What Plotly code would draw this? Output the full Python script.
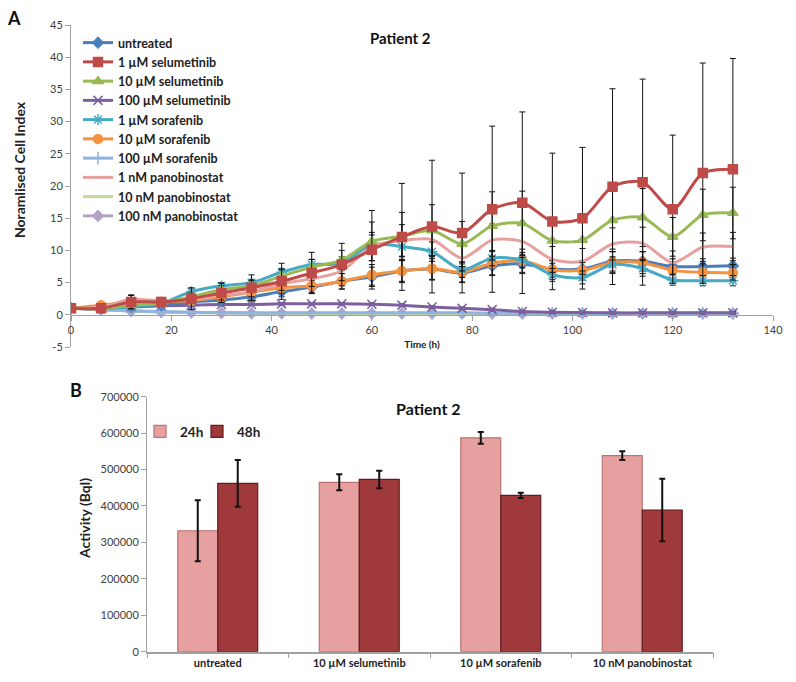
import plotly.graph_objects as go

# page body has an 8px margin, so the figure is drawn 8px in from the window edge
OFF = 8
W, H = 796 - 2 * OFF, 682 - 2 * OFF

# ---------------- Panel A data ----------------
time_h = [0, 6, 12, 18, 24, 30, 36, 42, 48, 54, 60, 66, 72, 78, 84, 90, 96, 102, 108, 114, 120, 126, 132]

series_names = ["untreated", "1 µM selumetinib", "10 µM selumetinib", "100 µM selumetinib",
                "1 µM sorafenib", "10 µM sorafenib", "100 µM sorafenib",
                "1 nM panobinostat", "10 nM panobinostat", "100 nM panobinostat"]

untreated = [1.0, 1.0, 1.2, 1.5, 2.0, 2.3, 2.8, 3.6, 4.3, 5.2, 5.9, 6.8, 7.1, 6.5, 7.6, 7.9, 7.1, 7.1, 8.3, 8.3, 7.5, 7.5, 7.6]
selu_1 = [1.0, 1.0, 2.0, 2.0, 2.5, 3.4, 4.2, 5.2, 6.5, 7.8, 10.1, 12.1, 13.7, 12.7, 16.4, 17.4, 14.5, 15.0, 19.9, 20.6, 16.4, 22.0, 22.6]
selu_10 = [1.0, 0.9, 1.5, 1.8, 2.8, 3.9, 4.5, 6.0, 7.4, 8.5, 11.4, 12.2, 13.1, 11.0, 13.8, 14.2, 11.5, 11.6, 14.7, 15.1, 12.1, 15.5, 15.8]
selu_100 = [1.0, 1.1, 1.3, 1.4, 1.5, 1.6, 1.6, 1.7, 1.7, 1.7, 1.65, 1.5, 1.2, 1.0, 0.8, 0.5, 0.4, 0.35, 0.3, 0.3, 0.3, 0.3, 0.3]
sora_1 = [1.0, 1.0, 1.3, 1.8, 3.6, 4.5, 5.0, 6.6, 7.8, 8.0, 10.9, 10.6, 9.8, 7.0, 8.8, 8.5, 6.2, 5.8, 7.8, 7.2, 5.4, 5.3, 5.3]
sora_10 = [1.0, 1.5, 2.0, 2.0, 2.2, 2.8, 3.5, 4.2, 4.5, 5.2, 6.2, 6.8, 7.2, 6.6, 8.0, 8.4, 7.0, 6.9, 8.1, 8.1, 6.9, 6.6, 6.5]
sora_100 = [1.0, 0.8, 0.6, 0.5, 0.4, 0.35, 0.3, 0.3, 0.3, 0.3, 0.3, 0.3, 0.3, 0.3, 0.25, 0.25, 0.25, 0.25, 0.25, 0.25, 0.25, 0.25, 0.25]
pano_1 = [1.0, 1.2, 2.4, 2.2, 2.4, 3.0, 3.6, 4.8, 5.6, 6.8, 10.6, 11.5, 11.7, 8.8, 11.6, 11.4, 8.6, 8.3, 11.0, 11.1, 8.1, 10.5, 10.6]
pano_10 = [1.0, 0.8, 0.6, 0.45, 0.35, 0.3, 0.25, 0.25, 0.2, 0.2, 0.2, 0.2, 0.2, 0.2, 0.2, 0.2, 0.2, 0.2, 0.2, 0.2, 0.2, 0.2, 0.2]
pano_100 = [1.0, 0.8, 0.6, 0.45, 0.35, 0.3, 0.25, 0.25, 0.2, 0.2, 0.2, 0.2, 0.2, 0.2, 0.2, 0.2, 0.2, 0.2, 0.2, 0.2, 0.2, 0.2, 0.2]

err_untreated = [0, 0.2, 0.3, 0.3, 0.4, 0.5, 0.6, 0.8, 1.0, 1.2, 1.5, 1.6, 1.6, 1.4, 1.5, 1.5, 1.3, 1.3, 1.5, 1.5, 1.2, 1.2, 1.2]
err_selu_1 = [0, 0.3, 1.1, 0.5, 1.7, 1.5, 2.0, 2.8, 3.2, 3.3, 6.1, 8.3, 10.3, 9.3, 12.9, 14.1, 10.6, 11.0, 15.2, 16.0, 11.5, 17.1, 17.2]
err_selu_10 = [0, 0.3, 0.5, 0.5, 0.6, 0.6, 0.8, 1.0, 1.2, 1.5, 3.0, 3.7, 4.0, 3.5, 5.3, 5.0, 3.5, 3.5, 4.5, 4.5, 3.0, 4.0, 4.0]
err_selu_100 = [0, 0.1, 0.2, 0.2, 0.2, 0.2, 0.2, 0.2, 0.2, 0.2, 0.2, 0.2, 0.2, 0.2, 0.2, 0.2, 0.2, 0.2, 0.2, 0.2, 0.2, 0.2, 0.2]
err_sora_1 = [0, 0.2, 0.3, 0.3, 0.4, 0.5, 0.5, 0.6, 0.8, 1.0, 1.5, 1.5, 1.5, 1.2, 1.2, 1.2, 1.0, 1.0, 1.2, 1.2, 0.8, 0.8, 0.8]
err_sora_10 = [0, 0.2, 0.3, 0.3, 0.4, 0.5, 0.6, 0.8, 1.0, 1.2, 1.6, 1.8, 1.8, 1.6, 1.8, 1.8, 1.5, 1.5, 1.7, 1.7, 1.3, 1.3, 1.3]
err_sora_100 = [0, 0.1, 0.1, 0.1, 0.1, 0.1, 0.1, 0.1, 0.1, 0.1, 0.1, 0.1, 0.1, 0.1, 0.1, 0.1, 0.1, 0.1, 0.1, 0.1, 0.1, 0.1, 0.1]
err_pano_1 = [0, 0.3, 0.6, 0.5, 0.6, 0.7, 0.8, 1.0, 1.2, 1.5, 2.2, 2.5, 2.5, 2.0, 2.5, 2.5, 2.0, 2.0, 2.5, 2.5, 1.8, 2.2, 2.2]
err_pano_10 = [0, 0.1, 0.1, 0.1, 0.1, 0.1, 0.1, 0.1, 0.1, 0.1, 0.1, 0.1, 0.1, 0.1, 0.1, 0.1, 0.1, 0.1, 0.1, 0.1, 0.1, 0.1, 0.1]
err_pano_100 = [0, 0.1, 0.1, 0.1, 0.1, 0.1, 0.1, 0.1, 0.1, 0.1, 0.1, 0.1, 0.1, 0.1, 0.1, 0.1, 0.1, 0.1, 0.1, 0.1, 0.1, 0.1, 0.1]

y_ticks_a = [-5, 0, 5, 10, 15, 20, 25, 30, 35, 40, 45]
y_ticklabels_a = ["-5", "0", "5", "10", "15", "20", "25", "30", "35", "40", "45"]

# ---------------- Panel B data ----------------
treatments = ["untreated", "10 µM selumetinib", "10 µM sorafenib", "10 nM panobinostat"]
activity_24h = [332000, 465000, 587000, 538000]
activity_48h = [462000, 473000, 429000, 389000]
err_24h = [84000, 22000, 16000, 12000]
err_48h = [64000, 24000, 7000, 86000]

# ---------------- styles ----------------
FONT = "Lato"
styles = [
    ("#4A7EBB", "diamond", 8),
    ("#BE4B48", "square", 9),
    ("#98B954", "triangle-up", 9),
    ("#7D60A0", "x-thin-open", 9),
    ("#46AAC5", "asterisk-open", 9),
    ("#F59240", "circle", 9),
    ("#8EB4E3", "cross-thin-open", 9),
    ("#E6A09E", "line-ew-open", 1),
    ("#C3D69B", "line-ew-open", 1),
    ("#B3A2C7", "diamond", 8),
]
values = [untreated, selu_1, selu_10, selu_100, sora_1, sora_10, sora_100, pano_1, pano_10, pano_100]
errs = [err_untreated, err_selu_1, err_selu_10, err_selu_100, err_sora_1, err_sora_10, err_sora_100,
        err_pano_1, err_pano_10, err_pano_100]


def px_x(p):
    return (p - OFF) / W


def px_y(p):
    return 1 - (p - OFF) / H


fig = go.Figure()

order = [9, 8, 6, 3, 0, 5, 4, 7, 2, 1]
for i in order:
    color, sym, size = styles[i]
    fig.add_trace(go.Scatter(
        x=time_h, y=values[i], name=series_names[i], mode="lines+markers",
        line=dict(color=color, width=3, shape="spline", smoothing=0.8),
        marker=dict(color=color, symbol=sym, size=size, line=dict(color=color, width=1.5)),
        error_y=dict(type="data", array=errs[i], color="#111111", thickness=1, width=3),
        xaxis="x", yaxis="y", legend="legend", legendrank=i + 1,
    ))

fig.add_trace(go.Bar(
    x=treatments, y=activity_24h, name="24h",
    marker=dict(color="#E6A09F", line=dict(color="#B87472", width=1.2)),
    error_y=dict(type="data", array=err_24h, color="#111111", thickness=2, width=3),
    xaxis="x2", yaxis="y2", legend="legend2",
))
fig.add_trace(go.Bar(
    x=treatments, y=activity_48h, name="48h",
    marker=dict(color="#A0393B", line=dict(color="#5E1E1F", width=1.2)),
    error_y=dict(type="data", array=err_48h, color="#111111", thickness=2, width=3),
    xaxis="x2", yaxis="y2", legend="legend3",
))

xa0, xa1 = px_x(71), px_x(773)
ya_top, ya_bot = px_y(25), px_y(347)
y_zero = ya_bot + (ya_top - ya_bot) * 5 / 50

xb0, xb1 = px_x(147), px_x(713)
yb_top, yb_bot = px_y(396.7), px_y(651.7)

axis_font = dict(family=FONT, size=11, color="#404040")
bar_legend_font = dict(family=FONT, size=13.5, color="#222222", weight="bold")

fig.update_layout(
    width=W, height=H,
    margin=dict(l=0, r=0, t=0, b=0, autoexpand=False),
    paper_bgcolor="white", plot_bgcolor="white",
    font=dict(family=FONT, color="#222222"),
    showlegend=True,
    barmode="group", bargap=0.435, bargroupgap=0,
    xaxis=dict(domain=[xa0, xa1], range=[0, 140], dtick=20, anchor="free", position=y_zero,
               automargin=False,
               showline=True, linecolor="#A0A0A0", linewidth=1, ticks="outside", ticklen=5,
               tickcolor="#A0A0A0", showgrid=False, zeroline=False, tickfont=axis_font,
               title=dict(text="<b>Time (h)</b>", font=dict(family=FONT, size=10, color="#222222"), standoff=5)),
    yaxis=dict(domain=[ya_bot, ya_top], range=[-5, 45], tickvals=y_ticks_a, ticktext=y_ticklabels_a,
               anchor="x", automargin=False,
               showline=True, linecolor="#A0A0A0", linewidth=1, ticks="outside", ticklen=5,
               tickcolor="#A0A0A0", showgrid=False, zeroline=False, tickfont=axis_font),
    xaxis2=dict(domain=[xb0, xb1], anchor="y2", type="category", automargin=False,
                showline=True, linecolor="#A0A0A0", linewidth=1.5, ticks="outside", ticklen=5,
                tickson="boundaries", tickcolor="#A0A0A0", showgrid=False,
                tickfont=dict(family=FONT, size=11, color="#222222", weight="bold")),
    yaxis2=dict(domain=[yb_bot, yb_top], range=[0, 700000], dtick=100000, tickformat="d",
                anchor="x2", automargin=False, showline=True, linecolor="#A0A0A0", linewidth=1,
                ticks="outside", ticklen=5, tickcolor="#A0A0A0", showgrid=False, zeroline=False,
                tickfont=axis_font),
    legend=dict(x=px_x(78), y=px_y(28), xanchor="left", yanchor="top",
                bgcolor="rgba(0,0,0,0)",
                font=dict(family=FONT, size=12.5, color="#222222", weight="bold"),
                tracegroupgap=0, itemwidth=30, traceorder="normal", borderwidth=0),
    legend2=dict(x=px_x(140), y=px_y(416), xanchor="left", yanchor="top", orientation="h",
                 bgcolor="rgba(0,0,0,0)", font=bar_legend_font, itemwidth=30, borderwidth=0),
    legend3=dict(x=px_x(197), y=px_y(416), xanchor="left", yanchor="top", orientation="h",
                 bgcolor="rgba(0,0,0,0)", font=bar_legend_font, itemwidth=30, borderwidth=0),
    annotations=[
        dict(text="<b>A</b>", x=px_x(5), y=px_y(18), xref="paper", yref="paper",
             xanchor="left", yanchor="middle", showarrow=False, font=dict(family=FONT, size=18, color="#111111")),
        dict(text="<b>B</b>", x=px_x(68), y=px_y(390), xref="paper", yref="paper",
             xanchor="left", yanchor="middle", showarrow=False, font=dict(family=FONT, size=18, color="#111111")),
        dict(text="<b>Patient 2</b>", x=px_x(400), y=px_y(38), xref="paper", yref="paper",
             xanchor="center", yanchor="middle", showarrow=False, font=dict(family=FONT, size=15, color="#111111")),
        dict(text="<b>Patient 2</b>", x=px_x(428), y=px_y(408), xref="paper", yref="paper",
             xanchor="center", yanchor="middle", showarrow=False, font=dict(family=FONT, size=16, color="#111111")),
        dict(text="<b>Noramlised Cell Index</b>", x=px_x(20), y=px_y(170), xref="paper", yref="paper",
             xanchor="center", yanchor="middle", textangle=-90, showarrow=False,
             font=dict(family=FONT, size=14, color="#222222")),
        dict(text="<b>Activity (Bql)</b>", x=px_x(84), y=px_y(519), xref="paper", yref="paper",
             xanchor="center", yanchor="middle", textangle=-90, showarrow=False,
             font=dict(family=FONT, size=14, color="#222222")),
    ],
)

fig.write_html("out.html")
